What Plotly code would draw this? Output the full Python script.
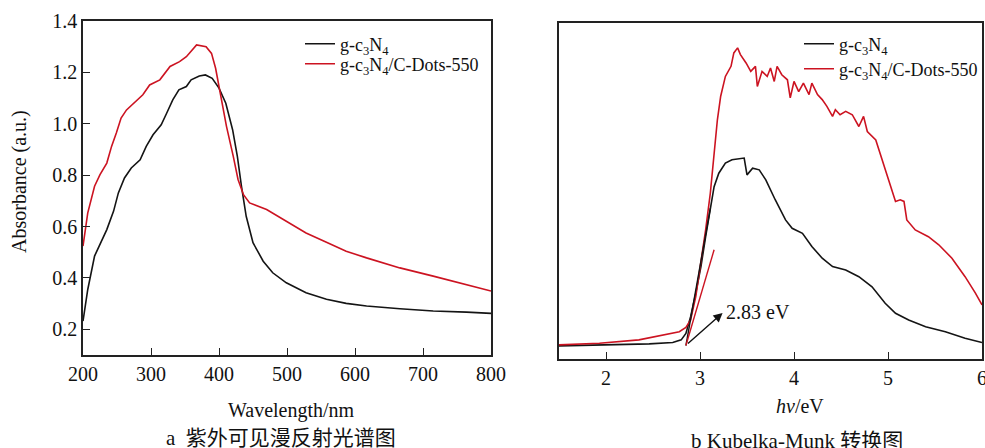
import plotly.graph_objects as go

# ---------- Panel a: UV-vis diffuse reflectance ----------
wl_black = [200, 207, 217, 225, 235, 245, 252, 261, 271, 284, 293, 303, 315, 323, 332, 341, 352, 359,
            371, 380, 390, 400, 410, 420, 427, 433, 440, 450, 465, 479, 499, 528, 558, 587, 617, 666,
            715, 764, 800]
abs_black = [0.232, 0.355, 0.485, 0.53, 0.588, 0.66, 0.731, 0.789, 0.828, 0.86, 0.912, 0.957, 0.996,
             1.041, 1.093, 1.132, 1.145, 1.171, 1.186, 1.19, 1.177, 1.139, 1.08, 0.977, 0.873, 0.757,
             0.64, 0.537, 0.465, 0.42, 0.381, 0.342, 0.317, 0.301, 0.291, 0.28, 0.271, 0.267, 0.262]

wl_red = [200, 207, 217, 225, 235, 242, 249, 256, 264, 274, 288, 298, 313, 328, 342, 352, 367, 381,
          389, 395, 401, 411, 421, 428, 436, 445, 470, 499, 528, 558, 587, 617, 666, 715, 764, 800]
abs_red = [0.524, 0.653, 0.757, 0.802, 0.847, 0.912, 0.964, 1.022, 1.054, 1.08, 1.113, 1.151, 1.171,
           1.223, 1.242, 1.261, 1.307, 1.3, 1.274, 1.216, 1.132, 0.99, 0.873, 0.783, 0.724, 0.692,
           0.666, 0.621, 0.575, 0.539, 0.504, 0.478, 0.439, 0.407, 0.375, 0.349]

# ---------- Panel b: Kubelka-Munk ----------
ev_black = [1.5, 1.93, 2.46, 2.71, 2.80, 2.85, 2.90, 2.955, 3.01, 3.06, 3.11, 3.15, 3.20, 3.27, 3.34,
            3.415, 3.47, 3.50, 3.56, 3.63, 3.70, 3.80, 3.91, 3.98, 4.09, 4.19, 4.30, 4.41, 4.55, 4.69,
            4.83, 4.97, 5.08, 5.22, 5.40, 5.61, 5.82, 6.0]
km_black = [0.039, 0.042, 0.045, 0.049, 0.057, 0.076, 0.126, 0.196, 0.275, 0.364, 0.454, 0.513, 0.553,
            0.583, 0.593, 0.595, 0.598, 0.548, 0.568, 0.563, 0.533, 0.474, 0.414, 0.389, 0.374, 0.335,
            0.30, 0.275, 0.265, 0.245, 0.215, 0.166, 0.136, 0.116, 0.096, 0.081, 0.062, 0.049]

ev_red = [1.5, 1.93, 2.35, 2.64, 2.78, 2.85, 2.90, 2.955, 3.01, 3.06, 3.11, 3.15, 3.185, 3.22, 3.27,
          3.33, 3.36, 3.40, 3.43, 3.49, 3.54, 3.59, 3.61, 3.66, 3.715, 3.75, 3.79, 3.82, 3.87, 3.93,
          3.96, 4.0, 4.05, 4.10, 4.16, 4.19, 4.25, 4.30, 4.35, 4.41, 4.44, 4.49, 4.55, 4.62, 4.69,
          4.74, 4.78, 4.87, 4.94, 5.01, 5.08, 5.13, 5.17, 5.20, 5.29, 5.43, 5.54, 5.68, 5.82, 5.93, 6.0]
km_red = [0.042, 0.047, 0.057, 0.072, 0.081, 0.094, 0.116, 0.186, 0.285, 0.384, 0.494, 0.603, 0.712,
          0.782, 0.841, 0.871, 0.911, 0.926, 0.906, 0.881, 0.856, 0.871, 0.811, 0.856, 0.841, 0.866,
          0.826, 0.871, 0.846, 0.831, 0.777, 0.826, 0.796, 0.821, 0.787, 0.821, 0.787, 0.772, 0.752,
          0.722, 0.742, 0.727, 0.737, 0.727, 0.692, 0.722, 0.677, 0.652, 0.593, 0.533, 0.469, 0.474,
          0.469, 0.414, 0.384, 0.364, 0.34, 0.30, 0.245, 0.196, 0.161]

# tangent (band-gap extrapolation) lines
tan_black_x = [2.85, 3.11]
tan_black_y = [0.04, 0.449]
tan_red_x = [2.85, 3.15]
tan_red_y = [0.04, 0.325]

gap_label = "2.83 eV"
name_a = "g-c<sub>3</sub>N<sub>4</sub>"
name_b = "g-c<sub>3</sub>N<sub>4</sub>/C-Dots-550"

BLACK = "#141414"
RED = "#cc1321"
FONT = "Liberation Serif"
CJK = "Liberation Serif, Noto Sans CJK SC"

fig = go.Figure()
fig.add_trace(go.Scatter(x=wl_black, y=abs_black, mode="lines", name=name_a,
                         line=dict(color=BLACK, width=1.6), xaxis="x", yaxis="y", legend="legend"))
fig.add_trace(go.Scatter(x=wl_red, y=abs_red, mode="lines", name=name_b,
                         line=dict(color=RED, width=1.6), xaxis="x", yaxis="y", legend="legend3"))
fig.add_trace(go.Scatter(x=ev_black, y=km_black, mode="lines", name=name_a,
                         line=dict(color=BLACK, width=1.6), xaxis="x2", yaxis="y2", legend="legend2"))
fig.add_trace(go.Scatter(x=ev_red, y=km_red, mode="lines", name=name_b,
                         line=dict(color=RED, width=1.6), xaxis="x2", yaxis="y2", legend="legend4"))
fig.add_trace(go.Scatter(x=tan_black_x, y=tan_black_y, mode="lines", showlegend=False,
                         line=dict(color=BLACK, width=1.4), xaxis="x2", yaxis="y2"))
fig.add_trace(go.Scatter(x=tan_red_x, y=tan_red_y, mode="lines", showlegend=False,
                         line=dict(color=RED, width=1.4), xaxis="x2", yaxis="y2"))

W, H = 985, 448
def px(xp):
    return xp / W
def py(yp):
    return (H - yp) / H

axis_common = dict(showline=True, linecolor="#222", linewidth=1.5, mirror=True,
                   ticks="inside", ticklen=7, tickwidth=1.3, tickcolor="#222",
                   showgrid=False, zeroline=False, automargin=False, ticklabeloverflow="allow",
                   tickfont=dict(family=FONT, size=20, color="#111"))

def leg(x, y):
    return dict(x=px(x), y=py(y), xanchor="left", yanchor="middle", bgcolor="rgba(0,0,0,0)",
                font=dict(family=FONT, size=18, color="#111"), itemwidth=30, borderwidth=0)

fig.update_layout(
    template="none",
    width=W, height=H,
    margin=dict(l=0, r=0, t=0, b=0, autoexpand=False),
    paper_bgcolor="white", plot_bgcolor="white",
    font=dict(family=FONT, color="#111"),
    xaxis=dict(domain=[px(83), px(491)], range=[200, 800], tickvals=[200, 300, 400, 500, 600, 700, 800],
               anchor="y", **axis_common),
    yaxis=dict(domain=[py(355), py(21)], range=[0.1, 1.4], tickvals=[0.2, 0.4, 0.6, 0.8, 1.0, 1.2, 1.4],
               tickformat=".1f", anchor="x", **axis_common),
    xaxis2=dict(domain=[px(559), px(982)], range=[1.5, 6], tickvals=[2, 3, 4, 5, 6],
                anchor="y2", **axis_common),
    yaxis2=dict(domain=[py(359), py(23)], range=[0, 1], anchor="x2",
                **{**axis_common, "ticks": "", "showticklabels": False}),
    legend=leg(300, 44),
    legend3=leg(300, 64),
    legend2=leg(799, 44),
    legend4=leg(799, 69),
    showlegend=True,
)

def lab(text, x, y, size=20, family=FONT, angle=0):
    return dict(text=text, x=px(x), y=py(y), xref="paper", yref="paper", xanchor="center",
                yanchor="middle", textangle=angle, showarrow=False,
                font=dict(family=family, size=size, color="#111"))

ann = [
    lab("Wavelength/nm", 291, 410),
    lab("Absorbance (a.u.)", 19, 182, angle=-90),
    lab("<i>hv</i>/eV", 800, 406),
    lab("a  紫外可见漫反射光谱图", 281, 438, size=21, family=CJK),
    lab("b Kubelka-Munk 转换图", 797, 441, size=21, family=CJK),
    dict(text="", x=3.24, y=0.137, ax=2.856, ay=0.042, xref="x2", yref="y2", axref="x2", ayref="y2",
         showarrow=True, arrowhead=2, arrowsize=1.3, arrowwidth=1.4, arrowcolor="#111"),
    dict(text=gap_label, x=3.25, y=0.14, xref="x2", yref="y2", xanchor="left", yanchor="middle",
         showarrow=False, font=dict(family=FONT, size=20, color="#111")),
]
fig.update_layout(annotations=ann)

fig.write_html("out.html", config={"displayModeBar": False},
               post_script="document.body.style.margin='0';document.body.style.overflow='hidden';")
